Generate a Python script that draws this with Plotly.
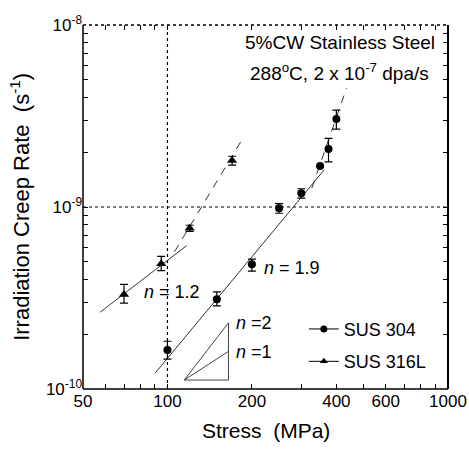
import plotly.graph_objects as go
import math

# ---- data ----
sus304_stress = [100, 150, 200, 250, 300, 350, 375, 400]
sus304_rate = [1.64e-10, 3.11e-10, 4.84e-10, 9.84e-10, 1.19e-9, 1.68e-9, 2.08e-9, 3.04e-9]
sus304_err_plus = [0.19e-10, 0.31e-10, 0.33e-10, 0.06e-9, 0.07e-9, 0.0, 0.30e-9, 0.37e-9]
sus304_err_minus = [0.18e-10, 0.25e-10, 0.40e-10, 0.06e-9, 0.07e-9, 0.0, 0.31e-9, 0.36e-9]

sus316_stress = [70, 95, 120, 170]
sus316_rate = [3.31e-10, 4.88e-10, 7.64e-10, 1.80e-9]
sus316_err_plus = [0.45e-10, 0.48e-10, 0.3e-10, 0.1e-9]
sus316_err_minus = [0.35e-10, 0.41e-10, 0.3e-10, 0.1e-9]

# fitted lines (end points)
fit304_x = [90.3, 362]
fit304_y = [1.22e-10, 1.60e-9]
dash304_x = [327, 435]
dash304_y = [1.27e-9, 4.5e-9]
fit316_x = [57.5, 117]
fit316_y = [2.64e-10, 6.13e-10]
dash316_x = [106, 184]
dash316_y = [5.68e-10, 2.33e-9]

# slope triangle
tri_x = [114.8, 165, 165, 114.8]
tri_y = [1.12e-10, 1.12e-10, 2.31e-10, 1.12e-10]
tri_n1_x = [114.8, 165]
tri_n1_y = [1.12e-10, 1.61e-10]

# reference lines
ref_x = 100
ref_y = 1e-9

x_range = [50, 1000]
y_range = [1e-10, 1e-8]

x_tickvals = [50, 100, 200, 400, 600, 1000]
x_ticktext = ["50", "100", "200", "400", "600", "1000"]
x_minor = [60, 70, 80, 90, 300, 500, 700, 800, 900]
y_tickvals = [1e-10, 1e-9, 1e-8]
y_ticktext = ["10<sup>-10</sup>", "10<sup>-9</sup>", "10<sup>-8</sup>"]
y_minor = [m * 10.0 ** e for e in (-10, -9) for m in range(2, 10)]

FONT = "Arial, Liberation Sans, Helvetica, sans-serif"
fig = go.Figure()

# reference dotted lines
fig.add_trace(go.Scatter(x=[ref_x, ref_x], y=y_range, mode="lines",
                         line=dict(color="black", width=1.2, dash="dot"),
                         showlegend=False, hoverinfo="skip"))
fig.add_trace(go.Scatter(x=x_range, y=[ref_y, ref_y], mode="lines",
                         line=dict(color="black", width=1.2, dash="dot"),
                         showlegend=False, hoverinfo="skip"))

# fit lines
line_col = "#333333"
for xs, ys, dash in [(fit304_x, fit304_y, "solid"), (dash304_x, dash304_y, "8px,7px"),
                     (fit316_x, fit316_y, "solid"), (dash316_x, dash316_y, "8px,7px")]:
    fig.add_trace(go.Scatter(x=xs, y=ys, mode="lines",
                             line=dict(color=line_col, width=1, dash=dash),
                             showlegend=False, hoverinfo="skip"))

# slope triangle
fig.add_trace(go.Scatter(x=tri_x, y=tri_y, mode="lines",
                         line=dict(color="#444444", width=1),
                         showlegend=False, hoverinfo="skip"))
fig.add_trace(go.Scatter(x=tri_n1_x, y=tri_n1_y, mode="lines",
                         line=dict(color="#444444", width=1),
                         showlegend=False, hoverinfo="skip"))

# data
fig.add_trace(go.Scatter(x=sus304_stress, y=sus304_rate, mode="markers",
                         marker=dict(symbol="circle", size=8, color="black"),
                         error_y=dict(type="data", array=sus304_err_plus, arrayminus=sus304_err_minus,
                                      symmetric=False, color="black", thickness=1.2, width=4),
                         showlegend=False))
fig.add_trace(go.Scatter(x=sus316_stress, y=sus316_rate, mode="markers",
                         marker=dict(symbol="triangle-up", size=9, color="black"),
                         error_y=dict(type="data", array=sus316_err_plus, arrayminus=sus316_err_minus,
                                      symmetric=False, color="black", thickness=1.2, width=4),
                         showlegend=False))

# legend entries
fig.add_trace(go.Scatter(x=[None], y=[None], mode="lines+markers", name="SUS 304",
                         legendgroup="a",
                         line=dict(color="black", width=1),
                         marker=dict(symbol="circle", size=7, color="black")))
fig.add_trace(go.Scatter(x=[None], y=[None], mode="lines+markers", name="SUS 316L",
                         legendgroup="b",
                         line=dict(color="black", width=1),
                         marker=dict(symbol="triangle-up", size=7, color="black")))

lx = math.log10
annotations = [
    dict(x=0.704, y=0.951, xref="paper", yref="paper", text="5%CW Stainless Steel",
         showarrow=False, xanchor="center", yanchor="middle", font=dict(size=19)),
    dict(x=0.704, y=0.872, xref="paper", yref="paper",
         text="288<sup>o</sup>C, 2 x 10<sup>-7</sup> dpa/s",
         showarrow=False, xanchor="center", yanchor="middle", font=dict(size=19)),
    dict(x=lx(80.9), y=lx(3.42e-10), xref="x", yref="y", text="<i>n</i> = 1.2",
         showarrow=False, xanchor="left", font=dict(size=18)),
    dict(x=lx(217), y=lx(4.64e-10), xref="x", yref="y", text="<i>n</i> = 1.9",
         showarrow=False, xanchor="left", font=dict(size=18)),
    dict(x=lx(172.6), y=lx(2.31e-10), xref="x", yref="y", text="<i>n</i> =2",
         showarrow=False, xanchor="left", font=dict(size=18)),
    dict(x=lx(172.6), y=lx(1.60e-10), xref="x", yref="y", text="<i>n</i> =1",
         showarrow=False, xanchor="left", font=dict(size=18)),
    # axis titles
    dict(x=0.5, y=-0.115, xref="paper", yref="paper", text="Stress  (MPa)",
         showarrow=False, xanchor="center", yanchor="middle", font=dict(size=21)),
    dict(x=-0.173, y=0.5, xref="paper", yref="paper",
         text="Irradiation Creep Rate  (s<sup>-1</sup>)", textangle=-90,
         showarrow=False, xanchor="center", yanchor="middle", font=dict(size=22)),
]

shapes = [
    dict(type="line", xref="paper", yref="paper", x0=0, x1=0, y0=0, y1=1, line=dict(color="black", width=1.5)),
    dict(type="line", xref="paper", yref="paper", x0=1, x1=1, y0=0, y1=1, line=dict(color="black", width=2)),
    dict(type="line", xref="paper", yref="paper", x0=0, x1=1, y0=0, y1=0, line=dict(color="black", width=1.5)),
    dict(type="line", xref="paper", yref="paper", x0=0, x1=1, y0=1, y1=1, line=dict(color="black", width=1.5, dash="dot")),
]

minor_style = dict(ticks="inside", ticklen=5, tickwidth=1, tickcolor="black", showgrid=False)

fig.update_layout(
    width=469, height=450,
    margin=dict(l=83, r=21, t=25, b=61, autoexpand=False),
    paper_bgcolor="white", plot_bgcolor="white",
    font=dict(family=FONT, size=17, color="black"),
    annotations=annotations,
    shapes=shapes,
    legend=dict(x=0.605, y=0.215, xanchor="left", yanchor="top",
                bgcolor="rgba(0,0,0,0)", font=dict(size=18),
                tracegroupgap=6, itemwidth=30),
    xaxis=dict(type="log", range=[lx(x_range[0]), lx(x_range[1])],
               tickvals=x_tickvals, ticktext=x_ticktext, automargin=False, tickangle=0,
               ticks="inside", ticklen=5, tickwidth=1, tickcolor="black",
               minor=dict(tickvals=x_minor, **minor_style),
               showgrid=False, zeroline=False, showline=False, mirror="allticks",
               tickfont=dict(size=17)),
    yaxis=dict(type="log", range=[lx(y_range[0]), lx(y_range[1])],
               tickvals=y_tickvals, ticktext=y_ticktext, automargin=False,
               ticks="inside", ticklen=5, tickwidth=1, tickcolor="black",
               minor=dict(tickvals=y_minor, **minor_style),
               showgrid=False, zeroline=False, showline=False, mirror="allticks",
               tickfont=dict(size=17)),
)

fig.write_html("out.html", config={"displayModeBar": False},
               post_script="document.body.style.margin='0px';")
